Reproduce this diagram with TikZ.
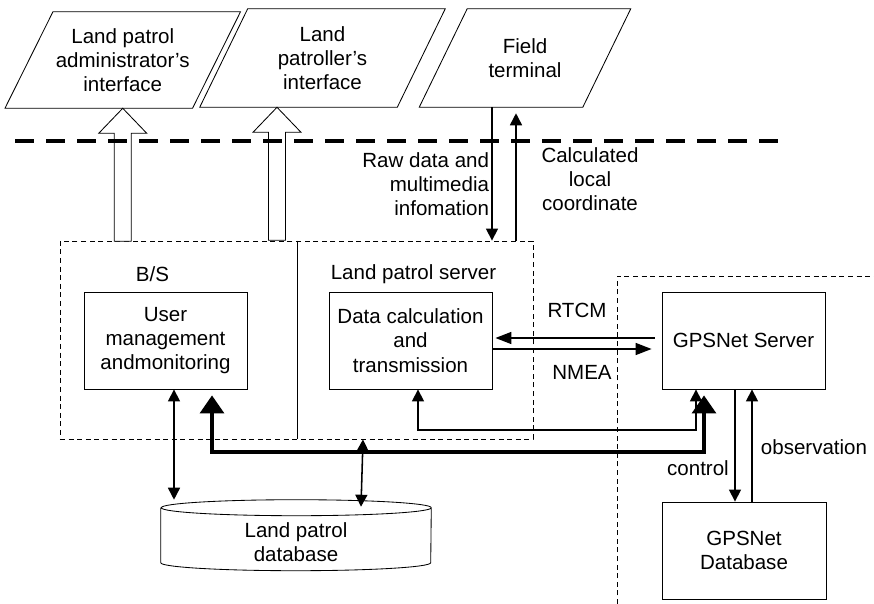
\documentclass[tikz,border=0pt]{standalone}
\usepackage{fontspec}
\setmainfont{Liberation Sans}
\usetikzlibrary{arrows.meta,calc}

\begin{document}
\begin{tikzpicture}[x=0.25mm,y=0.25mm,
  every node/.style={font=\fontsize{14.6}{17.3}\selectfont, align=center},
  box/.style={draw, line width=0.6pt, minimum width=40.75mm, minimum height=24.25mm, inner sep=0pt},
  io/.style={inner sep=0pt},
  dashbox/.style={line width=0.6pt, dash pattern=on 1.25mm off 0.9mm},
  arr/.style={line width=1.1pt, -{Triangle[length=3mm,width=3mm]}},
  darr/.style={line width=1.1pt, {Triangle[length=3mm,width=3mm]}-{Triangle[length=3mm,width=3mm]}},
  harr/.style={line width=1.1pt, -{Triangle[length=4mm,width=3mm]}},
  bus/.style={line width=2.3pt, {Triangle[length=4.5mm,width=6mm]}-{Triangle[length=4.5mm,width=6mm]}, shorten <=1.5mm, shorten >=1.5mm},
  hollow/.style={line width=0.6pt, fill=white}]
\useasboundingbox (0,0) rectangle (874,-604);

% interfaces on top
\node[io, minimum width=46.75mm, minimum height=24mm] (admin) at (122.75,-60) {Land patrol\\administrator's\\interface};
\node[io, minimum width=49.25mm, minimum height=24.5mm] (patroller) at (322.5,-58) {Land\\patroller's\\interface};
\node[io, minimum width=40.75mm, minimum height=24.5mm] (terminal) at (525,-58) {Field\\terminal};
\foreach \n in {admin,patroller,terminal}
  \draw[line width=0.6pt] ($(\n.north west)+(24,0)$) -- ($(\n.north east)+(24,0)$) -- ($(\n.south east)+(-24,0)$) -- ($(\n.south west)+(-24,0)$) -- cycle;

% land patrol side
\node[draw, dashbox, minimum width=118.25mm, minimum height=49.5mm] (lpsys) at (296.5,-340) {};
\draw[line width=0.6pt] (lpsys.north -| 297,0) -- (lpsys.south -| 297,0);
\node (bs) at (152.5,-274) {B/S};
\node (lpserver) at (413.5,-274) {Land patrol server};
\node[box] (user) at (165.5,-340.5) {User\\management\\andmonitoring};
\node[box] (calc) at (410.5,-340.5) {Data calculation\\and\\transmission};

% GPSNet side
\draw[dashbox] (617,-604) |- (874,-276);
\node[box] (gpsserver) at (743.5,-340.5) {GPSNet Server};
\node[box, minimum width=41mm] (gpsdb) at (744,-550.5) {GPSNet\\Database};

% database cylinder (north = centre of the top ellipse)
\node[minimum width=67.5mm, minimum height=17mm, inner sep=0pt] (lpdb) at (296,-542) {Land patrol\\database};
\draw[line width=0.6pt] (lpdb.north west) -- ++(0,-55) arc[start angle=180, end angle=360, x radius=135, y radius=8] -- (lpdb.north east) arc[start angle=0, end angle=360, x radius=135, y radius=8];

% hollow arrows up to the interfaces
\coordinate (tipB) at (patroller.south -| 277,0);
\foreach \tip in {admin.south,tipB}
  \draw[hollow] (\tip) -- ++(24,-25) -- ++(-15.5,0) -- ++(0,-108) -- ++(-17,0) -- ++(0,108) -- ++(-15.5,0) -- cycle;

\draw[line width=2.2pt, dash pattern=on 4.75mm off 3mm] (15,-141) -- (787,-141);

% field terminal
\draw[arr] (terminal.south -| 492,0) -- (lpsys.north -| 492,0);
\draw[arr, shorten >=1.5mm] (lpsys.north -| 516,0) -- (terminal.south -| 516,0);
\node[anchor=east, align=right] (rawdata) at (494,-184) {Raw data and\\multimedia\\infomation};
\node (calclocal) at (590,-179) {Calculated\\local\\coordinate};

% RTCM / NMEA
\draw[harr, shorten <=1.75mm, shorten >=0.75mm] (gpsserver.west |- 0,-338) -- (calc.east |- 0,-338);
\draw[harr, shorten >=2.5mm] (calc.east |- 0,-349) -- (gpsserver.west |- 0,-349);
\node (rtcm) at (577,-310) {RTCM};
\node (nmea) at (582,-372) {NMEA};

% links below
\draw[darr] (calc.south -| 418,0) |- (696,-430) -- (gpsserver.south -| 696,0);
\draw[bus] (user.south -| 212,0) |- (704,-452) -- (gpsserver.south -| 704,0);
\draw[darr] (user.south -| 174,0) -- ($(lpdb.north -| 174,0)+(0,8)$);
\draw[darr] ($(lpdb.north -| 361,0)+(0,1)$) -- (lpsys.south -| 363,0);

\draw[arr] (gpsserver.south -| 735,0) -- (gpsdb.north -| 735,0);
\draw[arr] (gpsdb.north -| 752,0) -- (gpsserver.south -| 752,0);
\node (control) at (698,-468) {control};
\node (observation) at (814,-447) {observation};
\end{tikzpicture}
\end{document}
